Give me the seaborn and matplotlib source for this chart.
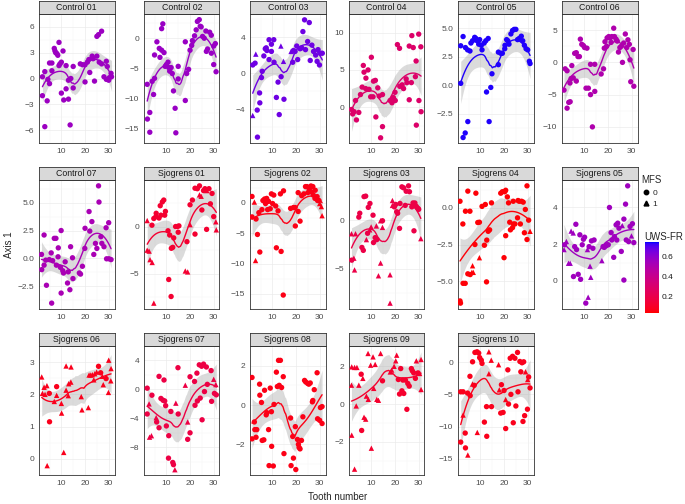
import numpy as np
import pandas as pd
import matplotlib
matplotlib.use('Agg')
import matplotlib as mpl
import matplotlib.pyplot as plt
import seaborn as sns
from matplotlib.colors import LinearSegmentedColormap, Normalize
from matplotlib.lines import Line2D

# (tooth number, Axis 1, MFS)
c01 = [(2, 0.2, 0), (2, -2.0, 0), (3, 0.8, 0), (3, -5.6, 0), (4, -2.6, 0), (4.3, -0.1, 0), (5, -0.6, 0), (5, 1.8, 0),
       (6, 1.8, 0), (6, 0.9, 0), (7, 3.5, 0), (7.3, 3.2, 0), (7.6, 3.0, 0), (8.1, 2.9, 0), (8.5, 2.7, 0), (9, 4.2, 0),
       (9, 1.5, 0), (9.4, 1.7, 0), (10, 1.9, 0), (10, -1.7, 0), (10.7, 3.2, 0), (11, -2.5, 0), (12, -1.2, 0), (12, 1.5, 0),
       (13, -2.4, 0), (13, -0.2, 0), (13.7, -5.4, 0), (14, 0.0, 0), (15, 1.4, 0), (15, -1.1, 0), (18, 1.7, 0), (19, 1.6, 0),
       (20, -0.4, 0), (20, 1.6, 0), (21, 1.9, 0), (21.6, 2.2, 0), (22, 0.7, 0), (23, 2.6, 0), (23.4, 2.3, 0), (24, -0.3, 0),
       (25, 4.9, 0), (25.7, 5.1, 0), (27, 5.5, 0), (25, 2.6, 0), (26, 1.9, 0), (27, 1.7, 0), (28, 0.2, 0), (29, 2.0, 0),
       (29, -0.1, 0), (29.4, 1.4, 0), (30, -0.2, 0), (30.3, 0.1, 0), (31, 0.6, 0), (31.2, 0.2, 0)]
c02 = [(1.9, -7.7, 0), (2, -13.5, 0), (3, -12.4, 0), (3, -15.7, 0), (4, -7.2, 0), (4.6, -9.4, 0), (5, -6.7, 0), (5, -2.8, 0),
       (6, -0.6, 0), (7, -1.7, 0), (7.3, -3.2, 0), (8, 1.6, 0), (8.5, 2.4, 0), (8, -2.0, 0), (9, -2.4, 0), (9.5, -4.7, 0),
       (10, -4.4, 0), (10.7, -4.0, 0), (11, -4.9, 0), (11.4, -5.5, 0), (12, -4.9, 0), (12.5, -5.9, 0), (13, -8.8, 0),
       (13.7, -11.7, 0), (14, -15.8, 0), (15, -4.7, 0), (15, -6.8, 0), (18, -10.4, 0), (18, -0.6, 0), (18.6, -5.9, 0),
       (19.4, -5.2, 0), (20, -2.0, 0), (20.7, -1.2, 0), (21, -0.4, 0), (21.9, 0.4, 0), (22.6, 1.4, 0), (23.1, 2.8, 0),
       (23.9, 3.1, 0), (24.3, 2.0, 0), (24.7, 1.9, 0), (25.3, 0.3, 0), (26, 0.0, 0), (26.7, 1.2, 0), (26.9, -2.2, 0),
       (27.4, -1.8, 0), (28.3, 1.0, 0), (29, 0.5, 0), (29, -2.5, 0), (30, -4.4, 0), (30, -1.3, 0), (30.7, -0.9, 0), (31, -5.6, 0)]
c03 = [(1.7, 0.9, 0), (2.7, 1.1, 0), (3, 2.1, 1), (1.7, -4.7, 1), (3.6, -4.1, 0), (3.7, -7.1, 0), (4.6, -2.2, 0), (4.7, -3.3, 0),
       (5.4, -0.5, 0), (5.7, 0.2, 0), (6.4, 1.9, 0), (7, 2.7, 0), (7.4, 2.8, 0), (7.7, 2.5, 0), (8.6, 3.7, 0), (8.6, 1.5, 0),
       (9.6, 3.2, 0), (9.6, 2.4, 0), (10.6, 3.7, 0), (10.7, 1.2, 0), (11.7, -2.7, 0), (12.4, -1.0, 0), (12.9, -4.6, 0),
       (13.6, 3.0, 1), (13.7, -0.4, 0), (14.7, 1.3, 1), (14.9, -2.9, 0), (17.9, 2.4, 1), (18.6, 1.2, 0), (18.9, 2.5, 0),
       (19.6, 2.4, 0), (20.3, 3.0, 0), (20.7, 1.5, 0), (21.7, 2.7, 0), (22.4, 2.8, 0), (22.9, 4.6, 0), (23.6, 5.9, 0),
       (24, 2.6, 0), (24.9, 3.5, 0), (25.6, 5.6, 0), (26, 1.4, 0), (26.7, 3.1, 0), (27.4, 2.4, 0), (28.3, 2.0, 0),
       (28.9, 1.3, 0), (29.3, 2.6, 0), (29.9, 0.9, 0), (30.3, 2.2, 0), (31.1, 2.2, 0)]
c04 = [(1.6, -0.3, 0), (2.1, -0.9, 0), (2.7, -0.6, 0), (3.3, 0.9, 0), (3.7, -1.7, 0), (4.7, -0.7, 0), (5.4, 1.7, 0), (6.1, 2.7, 0),
       (6.6, 5.6, 0), (6.9, 4.7, 0), (7.6, 2.5, 0), (7.7, 3.9, 0), (8.6, 5.0, 0), (9, 2.4, 0), (9.7, 1.4, 0), (10, 6.7, 0),
       (10.7, 1.4, 0), (10.9, 3.5, 0), (11.7, 3.6, 0), (11.9, -1.3, 0), (12.7, 2.6, 0), (13.3, 1.5, 0), (13.9, -4.1, 0),
       (14.7, -2.6, 0), (14.7, 1.7, 0), (17.9, 0.9, 0), (18.7, 0.6, 0), (19.3, 1.3, 0), (20, 2.0, 0), (20.1, 0.9, 0),
       (21, 8.4, 0), (21.9, 7.9, 0), (22, 2.8, 0), (23, 3.0, 0), (23.6, 2.5, 0), (24.7, 3.8, 0), (25, 3.3, 0), (26, 8.2, 0),
       (26, 1.0, 0), (26.9, 3.3, 0), (27.1, 9.6, 0), (27.7, 8.0, 0), (28.6, 4.1, 0), (28.9, 6.2, 0), (29, -2.4, 0),
       (30, 9.8, 0), (30.1, 0.9, 0), (30.9, 8.1, 0), (31, -0.6, 0)]
c05 = [(1.7, 0.16, 0), (1.7, 3.46, 0), (2.7, 4.27, 0), (3.7, 3.3, 0), (4.6, 3.1, 0), (5.6, 3.0, 0), (2.7, -4.6, 0), (3.6, -4.2, 0),
       (4.7, -3.2, 0), (6, 3.7, 0), (6.7, 3.9, 0), (7.6, 4.2, 0), (8.1, 4.1, 0), (8.6, 3.9, 0), (9.3, 3.6, 0), (9.7, 4.0, 0),
       (10.4, 3.5, 0), (10.7, 3.1, 0), (11.6, 3.7, 0), (12.3, 3.9, 0), (13.3, 4.1, 0), (12.6, -0.6, 0), (13.7, -3.2, 0),
       (14.4, -0.2, 0), (14.9, 1.0, 0), (17.6, 1.8, 0), (17.6, 2.9, 0), (18.6, 2.8, 0), (19.3, 2.8, 0), (20.3, 3.2, 0),
       (20.4, 3.5, 0), (21.1, 4.0, 0), (21.6, 3.9, 0), (22.1, 3.6, 0), (22.9, 4.5, 0), (23.6, 4.8, 0), (24.3, 4.9, 0),
       (25, 4.9, 0), (25.7, 4.0, 0), (26.4, 4.1, 0), (27.3, 4.3, 0), (27.9, 3.9, 0), (28.6, 3.5, 0), (29.3, 3.2, 0),
       (30, 3.1, 0), (30.7, 2.1, 0), (31, 1.9, 0)]
c06 = [(1.4, -4.3, 0), (1.9, -1.0, 0), (2.7, -1.3, 0), (2.7, -7.1, 0), (3.4, -6.2, 0), (4, -6.1, 0), (3.9, -3.2, 0), (4.4, -2.5, 0),
       (4.7, -0.5, 0), (5.3, -2.4, 0), (5.9, 1.4, 0), (6.6, 1.5, 0), (6.6, -2.9, 0), (7.3, 0.9, 0), (7.9, 0.9, 0), (8.3, 3.6, 0),
       (8.9, 2.8, 0), (9.6, 2.6, 0), (10.1, 2.3, 0), (10.7, -4.0, 0), (11.1, 2.2, 0), (11.7, -4.0, 0), (12.6, -5.0, 0),
       (12.6, -0.3, 0), (13.4, -10.0, 0), (14.4, -0.3, 0), (14.4, -4.5, 0), (17.1, -1.8, 0), (18.1, -1.0, 0), (18.4, 2.2, 0),
       (18.7, 3.2, 0), (19.4, 2.5, 0), (19.6, 3.8, 0), (20.3, 4.0, 0), (20.9, 3.8, 0), (21.3, 3.1, 0), (21.6, 4.0, 0),
       (22.4, 5.3, 0), (22.7, 4.0, 0), (23.4, 3.6, 0), (23.9, 3.3, 0), (24.4, 1.6, 0), (25, 2.3, 0), (25.6, 2.5, 0),
       (26.1, 0.0, 0), (26.6, 3.0, 0), (27.3, 4.4, 0), (27.9, 2.3, 0), (28.4, 3.5, 0), (29, 2.8, 0), (29.3, 0.4, 0),
       (29.6, -3.0, 0), (30.6, 2.0, 0), (30.9, -3.7, 0)]
c07 = [(1.6, 0.36, 0), (1.7, -1.0, 0), (2.7, 2.1, 0), (2.7, -0.6, 0), (3.4, -0.15, 0), (3.7, -2.4, 0), (4.9, -0.1, 0),
       (5.7, 0.5, 0), (5.9, -4.0, 0), (6.3, -0.2, 0), (7, 1.8, 0), (7.7, 1.8, 0), (7.9, -0.6, 0), (8.6, 0.15, 0),
       (8.7, 0.95, 0), (9.6, -0.8, 0), (9.9, 2.5, 0), (9.9, -3.1, 0), (10.6, -1.1, 0), (10.9, -1.3, 0), (11.6, -0.3, 0),
       (12.6, -2.2, 0), (12.9, -1.2, 0), (13.6, -2.8, 0), (13.9, 1.05, 0), (14.7, 0.06, 0), (14.9, -1.8, 0), (17.6, -1.3, 0),
       (18.1, -1.4, 0), (18.9, -0.7, 0), (19.9, 0.9, 0), (20, 2.7, 0), (21.7, 4.2, 0), (22, 2.45, 0), (22.9, 3.3, 0),
       (23.7, 0.36, 0), (24.4, 1.35, 0), (25, 0.9, 0), (25.7, 6.5, 0), (25.9, 5.05, 0), (26.7, 1.95, 0), (27.1, 1.35, 0),
       (28, 1.05, 0), (28.9, 2.75, 0), (29.1, -0.03, 0), (30, 3.2, 0), (30.1, -0.03, 0), (31, -0.1, 0)]
s01 = [(1.9, 0.63, 1), (1.9, -2.5, 1), (2.7, -2.6, 1), (3.1, -3.5, 1), (4, -3.8, 1), (3.9, 0.14, 0), (4.7, 0.85, 0),
       (4.7, -8.1, 1), (5.6, 1.05, 0), (5.7, 1.4, 0), (6.9, 0.9, 0), (7.7, 1.2, 0), (7.4, 2.2, 0), (8.3, 2.6, 0), (8.9, 2.8, 0),
       (9.3, 1.2, 0), (9.6, 1.6, 0), (10.7, -0.45, 0), (11, -5.6, 0), (11.4, -0.9, 0), (12, -7.4, 0), (12.1, -2.3, 0),
       (12.7, -2.2, 0), (13.1, -1.2, 0), (13.9, 0.0, 0), (14.6, 0.0, 0), (15, -0.6, 0), (15.3, 0.07, 0), (18, -4.7, 1),
       (19, -4.8, 1), (18.7, -1.6, 0), (20, 2.3, 0), (20, 0.2, 1), (21, 2.8, 0), (22.1, -0.8, 0), (22.1, 4.05, 0),
       (23.1, 4.0, 0), (24, 4.3, 0), (24, 3.35, 1), (24.7, 3.2, 1), (25, 1.75, 0), (25.7, 3.8, 0), (26.3, 4.0, 0),
       (27, -0.3, 0), (27.1, 3.8, 1), (28, 4.0, 0), (28.6, 2.4, 0), (29.3, 3.5, 0), (30, 1.05, 0), (30.9, 0.5, 1),
       (31.1, -0.35, 1)]
s02 = [(1.4, 1.07, 0), (1.4, -2.3, 0), (2.4, 0.15, 1), (2.9, -9.5, 1), (3.1, -2.65, 0), (3.7, -5.2, 0), (4.3, -1.6, 0),
       (4.7, -8.1, 0), (5.6, -1.1, 0), (6, 0.4, 0), (6.7, 0.65, 0), (7.1, -0.1, 0), (7.6, 0.75, 0), (8, -1.1, 0),
       (8.4, 0.25, 0), (9.1, -0.95, 0), (9.6, 1.5, 0), (10.1, -0.1, 0), (10.6, 1.3, 0), (11.4, -0.5, 0), (11.7, -7.4, 0),
       (12.4, -1.3, 0), (13.4, 1.5, 0), (13.7, -8.0, 0), (14.7, 2.0, 0), (14.6, -15.2, 0), (17.7, -0.9, 0), (18.9, -0.75, 0),
       (19.6, -0.75, 0), (19.7, -3.8, 0), (20.9, 1.7, 0), (20.9, -1.4, 0), (21.7, -3.0, 0), (22.4, 1.2, 0), (23.3, 1.5, 0),
       (24, 2.7, 0), (24.6, 2.7, 0), (25, 1.7, 0), (25.6, 2.3, 0), (26.3, 2.8, 0), (26.6, 1.8, 0), (27.1, 2.7, 0),
       (27.3, 1.3, 0), (28, 0.75, 0), (28.1, 2.1, 0), (28.9, 1.05, 0), (29.1, 0.4, 0), (29.7, 0.4, 0), (30, -0.1, 1),
       (30.7, -0.6, 1), (31, -2.1, 1)]
s03 = [(1.6, -1.4, 1), (1.7, -4.1, 0), (2.6, -3.9, 1), (2.9, -5.1, 1), (3.3, -1.4, 1), (4.7, 0.3, 0), (5.1, 0.7, 0),
       (6, -2.8, 0), (6.6, -3.1, 0), (6.9, 2.4, 0), (7.6, 2.45, 0), (7.9, -2.0, 1), (8.4, -1.35, 0), (8.7, 1.3, 0),
       (9.4, 1.7, 0), (9.3, -1.0, 1), (9.9, -0.7, 1), (10.7, 0.5, 0), (10.9, -2.3, 0), (11.6, -1.8, 0), (12.1, -0.6, 1),
       (12.3, -2.0, 0), (13, -5.7, 1), (13.9, -0.07, 1), (13.9, -4.4, 1), (14.7, -0.07, 0), (14.7, -0.75, 1), (17.9, -5.6, 1),
       (17.9, -8.5, 1), (18.9, 2.0, 1), (18.9, 1.5, 1), (19.7, 1.35, 0), (20.3, 1.6, 0), (20.7, 0.85, 0), (21.1, 0.7, 0),
       (21.9, -0.85, 0), (22.1, 1.7, 0), (22.9, 3.4, 0), (23.6, 3.3, 0), (24.3, 1.5, 0), (24.7, 2.95, 0), (25.7, 3.5, 0),
       (26.1, 2.9, 0), (27.1, 1.35, 0), (27.6, 1.75, 0), (28, -1.1, 0), (28.4, 1.75, 0), (29, 1.4, 0), (29.7, 1.2, 0),
       (30, 1.1, 0), (30.9, -1.9, 1)]
s04 = [(1.4, 0.45, 0), (1.4, -6.35, 0), (1.6, -6.5, 0), (2.6, -1.1, 0), (2.7, -5.15, 0), (3.7, -0.23, 0), (3.6, -5.15, 0),
       (4.7, 1.14, 0), (4.7, -4.5, 0), (5.6, -0.23, 0), (5.7, -4.55, 0), (6.4, -4.4, 1), (6.7, -3.95, 1), (7, -4.4, 1),
       (7.7, -2.5, 0), (8.1, 1.0, 0), (8.9, -1.0, 0), (9.6, -0.98, 0), (9.6, -3.4, 1), (10.7, 0.1, 0), (11.7, -2.55, 0),
       (12.1, 0.23, 0), (12.6, -5.05, 0), (12.7, -2.2, 0), (13.3, -1.6, 0), (13.9, -1.5, 0), (14.7, 0.34, 0), (18.6, 1.0, 0),
       (19.3, 1.1, 0), (20, -3.4, 0), (20.3, 1.1, 0), (20.7, 1.2, 0), (20.7, -1.9, 0), (21.4, 0.75, 0), (21.9, 0.34, 0),
       (22.4, -0.98, 0), (22.7, -1.5, 0), (23.6, -1.35, 0), (23.9, 0.45, 0), (24, -1.1, 0), (24.6, -1.1, 0), (25.7, -0.68, 0),
       (25.9, 0.5, 0), (26.4, 0.45, 0), (26.9, -1.1, 0), (27.4, 0.45, 0), (28.1, 0.39, 0), (28.6, -1.7, 0), (29, -0.11, 0),
       (29.7, 1.5, 0), (29.7, -2.16, 0), (30.4, -0.84, 0), (31, -1.6, 1)]
s05 = [(1.4, 1.7, 1), (1.6, 1.96, 0), (2.4, 2.14, 1), (3.3, 0.96, 1), (4, 0.96, 1), (4.4, 2.7, 1), (5.3, 2.6, 1), (5.4, 0.24, 0),
       (5.9, 1.86, 0), (6.4, 3.07, 0), (6.7, 1.7, 0), (7.4, 0.36, 0), (8.1, 2.5, 0), (8.4, 0.09, 0), (9.1, 1.96, 0),
       (9.6, 2.26, 0), (10.1, 2.37, 0), (10.6, -1.2, 0), (11.3, 1.7, 1), (11.6, -0.88, 1), (12, 1.86, 0), (12.4, 0.8, 1),
       (12.7, 0.2, 1), (13, 2.17, 0), (13.6, 1.77, 0), (14.1, 2.22, 0), (17.4, 1.1, 1), (17.9, 1.86, 0), (18.4, 1.82, 0),
       (19.1, 1.9, 0), (19.6, 1.96, 0), (20.1, 1.96, 0), (20.6, 3.98, 0), (21.3, 2.62, 0), (21.6, 2.22, 0), (22.4, 1.28, 0),
       (22.7, 2.4, 0), (23.4, 3.04, 0), (23.7, 2.22, 0), (24.1, 3.13, 0), (24.6, 2.86, 0), (25.6, 1.6, 0), (26, 3.0, 1),
       (26.7, 3.35, 0), (26.7, 0.05, 0), (27.4, 4.16, 0), (27.7, 2.22, 0), (28.3, 5.15, 0), (28.7, 2.13, 0), (29.3, 2.95, 0),
       (29.9, 2.44, 1), (30.3, 3.1, 0), (30.9, 2.08, 0)]
s06 = [(1.7, 2.54, 1), (2, 2.03, 1), (2.7, 2.22, 1), (3.1, 2.0, 1), (3.9, 2.27, 1), (4, -0.21, 1), (4.9, 2.03, 0), (5, 1.15, 0),
       (7, 1.78, 1), (8, 2.24, 0), (8, 1.97, 1), (10, 1.72, 1), (10.1, 1.42, 1), (11, 0.2, 1), (12, 2.13, 1), (12, 2.88, 1),
       (12.9, 1.96, 1), (13.1, 2.33, 1), (14, 2.38, 1), (14.1, 2.85, 1), (18.4, 1.93, 1), (18.7, 1.52, 1), (21.4, 1.59, 1),
       (21.7, 2.6, 1), (22.4, 2.6, 1), (23.1, 2.61, 1), (23.7, 2.45, 1), (24.1, 2.64, 1), (24.9, 2.69, 1), (25.7, 2.87, 0),
       (26.6, 2.67, 0), (27.3, 2.56, 1), (27.7, 2.3, 1), (28.9, 2.49, 0), (29.9, 2.06, 1), (30, 3.06, 1), (31, 2.8, 1),
       (30.9, 2.42, 1)]
s07 = [(1.9, 0.17, 0), (1.9, -3.4, 0), (2.7, -2.0, 1), (2.9, -6.6, 1), (3.7, -6.4, 1), (3.9, -0.8, 0), (5.7, -3.9, 1),
       (5.9, -4.5, 0), (6.9, -5.3, 0), (6.9, 1.8, 0), (7.7, -1.25, 0), (8.6, -1.5, 0), (9, 1.3, 0), (9.3, -1.6, 0),
       (9.7, -2.25, 0), (10, -5.05, 0), (10.9, -9.5, 0), (11, -6.4, 0), (11.9, -3.05, 0), (12.7, -10.1, 0), (13, -10.4, 0),
       (13.6, -11.1, 1), (14, -1.9, 1), (14.9, 3.0, 0), (15, -3.4, 0), (18, 0.58, 1), (19, -4.5, 1), (19, -6.9, 0),
       (20, 1.75, 0), (20, -6.0, 0), (21.9, 1.1, 0), (22.1, -2.2, 0), (22.9, 2.25, 0), (23.1, -1.6, 0), (23.9, 3.4, 0),
       (24.3, -1.2, 0), (24.9, 3.2, 0), (25.1, -4.2, 0), (25.7, 3.5, 0), (26.1, -0.3, 0), (26.9, 3.1, 0), (27.3, 0.7, 0),
       (28.9, 2.6, 0), (29.1, -1.65, 0), (30, 1.4, 1), (30.3, -0.55, 0), (30.9, 0.67, 1), (31.1, -0.75, 0)]
s08 = [(1.4, 1.4, 0), (1.4, -1.72, 0), (2.4, -0.86, 0), (2.6, -1.25, 0), (3.1, -1.64, 0), (3.4, -1.25, 0), (4.6, 1.06, 0),
       (4.7, 0.5, 0), (5.4, 0.13, 0), (5.7, -1.8, 0), (6.4, -1.77, 0), (6.7, 0.75, 0), (7.4, -0.5, 0), (7.7, -0.39, 0),
       (8.4, -1.25, 0), (8.6, -3.08, 0), (9.1, 0.86, 0), (9.6, -0.34, 0), (9.7, -2.1, 0), (10.4, -3.1, 0), (10.7, 0.03, 0),
       (11.7, 1.67, 0), (12.1, 0.94, 0), (12.6, 2.27, 0), (12.9, 1.0, 0), (13.4, 2.27, 0), (13.9, 0.89, 0), (14.6, 1.44, 0),
       (14.9, -2.47, 0), (17.7, -0.66, 0), (17.9, -3.08, 0), (18.6, -1.6, 0), (18.9, -2.7, 0), (19.7, -1.1, 0),
       (19.9, -3.28, 0), (20.6, -1.75, 0), (21, -2.0, 0), (21.3, -2.16, 0), (21.7, -2.23, 0), (22.3, -1.8, 0), (22.9, -0.6, 0),
       (23.6, 1.25, 0), (24.1, 1.17, 0), (24.9, 1.1, 0), (25.4, 1.06, 0), (26, 1.12, 0), (26.9, 0.16, 0), (27.1, 0.23, 0),
       (27.7, 0.78, 0), (28.9, 1.64, 0), (29.1, -0.7, 0), (30, -0.78, 0), (30.3, -0.13, 0), (31, -0.08, 0), (31, -0.94, 0)]
s09 = [(1.6, 1.0, 1), (1.7, 1.97, 1), (1.7, -1.65, 1), (2.9, -3.45, 1), (2.9, 1.94, 1), (3.6, -0.1, 1), (3.9, 1.94, 1),
       (4.7, 1.0, 1), (5.7, 1.58, 0), (5.9, -1.4, 0), (6.4, 1.36, 1), (6.9, -0.7, 1), (7.6, -0.8, 1), (7.9, 0.42, 1),
       (8.6, 2.68, 1), (8.7, 0.25, 1), (9.7, 2.06, 1), (10, -2.34, 1), (10.7, 2.5, 1), (11, 0.83, 1), (11.6, 2.1, 1),
       (12.3, 0.25, 1), (13, 0.2, 1), (13.9, 2.68, 1), (14.7, 1.23, 0), (18, 1.7, 1), (18.6, 1.8, 1), (19.6, 2.0, 1),
       (20.3, 2.29, 1), (20.7, 2.59, 1), (21.4, 1.3, 0), (21.9, 0.53, 0), (22.4, 1.88, 0), (22.9, 0.7, 0), (23.3, 1.27, 0),
       (23.7, 0.56, 0), (24.4, 1.27, 0), (25, -0.28, 0), (25.4, 1.09, 0), (26, 0.95, 0), (26.9, 1.88, 0), (27.3, 1.76, 0),
       (27.9, 1.65, 0), (28.6, 1.36, 0), (29, 2.29, 1), (29.7, 1.65, 0), (30.4, 1.62, 1), (31, 2.36, 1), (31, 0.77, 1)]
s10 = [(1.7, -4.6, 0), (2.7, -4.6, 0), (1.7, -12.4, 0), (2.7, -8.2, 1), (3.6, -11.0, 0), (3.7, -13.3, 0), (4.6, -4.8, 0),
       (4.7, -14.4, 1), (5.6, -2.2, 0), (5.7, -5.2, 0), (6.7, 0.05, 0), (6.7, -3.4, 1), (7.4, -3.6, 0), (7.7, 1.5, 0),
       (8.6, 1.6, 0), (8.7, -10.9, 1), (9.3, 1.4, 0), (9.7, 0.7, 0), (10.4, 0.3, 0), (10.7, -0.2, 0), (11.7, -9.3, 0),
       (12.6, -6.9, 0), (12.7, -11.5, 0), (13.6, 1.6, 1), (13.6, -1.8, 1), (14.6, 0.3, 1), (14.7, -6.9, 0), (17.7, -0.4, 1),
       (18, -4.3, 1), (18.6, -7.9, 0), (18.9, -3.5, 0), (19.6, -7.8, 0), (20, -4.4, 0), (20.7, -5.8, 1), (20.7, -10.3, 0),
       (21.6, -1.2, 0), (21.9, -6.5, 0), (22.6, 0.6, 0), (22.9, -5.0, 0), (23.6, 0.9, 0), (23.9, -9.4, 0), (24.6, 0.6, 0),
       (25, -6.8, 0), (25.7, 1.5, 0), (25.9, -4.6, 0), (26.7, 0.1, 0), (27.1, -1.5, 0), (27.6, -0.1, 0), (28, -9.2, 0),
       (28.3, 0.05, 0), (28.7, -8.3, 0), (29.1, -1.5, 1), (29.9, -7.3, 0), (30, -2.7, 1), (30.4, -2.3, 0), (31, -4.0, 0)]

panel_names = ['Control 01', 'Control 02', 'Control 03', 'Control 04', 'Control 05', 'Control 06', 'Control 07',
               'Sjogrens 01', 'Sjogrens 02', 'Sjogrens 03', 'Sjogrens 04', 'Sjogrens 05', 'Sjogrens 06',
               'Sjogrens 07', 'Sjogrens 08', 'Sjogrens 09', 'Sjogrens 10']
panel_points = [c01, c02, c03, c04, c05, c06, c07, s01, s02, s03, s04, s05, s06, s07, s08, s09, s10]
# UWS-FR per subject (estimated from colour)
uws_fr = [0.56, 0.57, 0.66, 0.29, 0.73, 0.50, 0.52, 0.13, 0.07, 0.19, 0.05, 0.55, 0.08, 0.18, 0.07, 0.12, 0.08]
y_breaks = [[-6, -3, 0, 3, 6], [-15, -10, -5, 0], [-4, 0, 4], [0, 5, 10], [-2.5, 0, 2.5, 5], [-10, -5, 0, 5],
            [-2.5, 0, 2.5, 5], [-5, 0], [-15, -10, -5, 0], [-5, 0], [-5, -2.5, 0], [0, 2, 4], [0, 1, 2, 3],
            [-8, -4, 0, 4], [-2, 0, 2], [-2, 0, 2], [-15, -10, -5, 0]]
x_breaks = [10, 20, 30]
color_breaks = [0.2, 0.4, 0.6]
color_limits = (0.04, 0.74)

rows = []
for name, pts, u in zip(panel_names, panel_points, uws_fr):
    for t, a, m in pts:
        rows.append({'subject': name, 'tooth': t, 'axis1': a, 'mfs': m, 'uws': u})
df = pd.DataFrame(rows)


# red -> blue gradient interpolated in Lab (like ggplot's scale_colour_gradient)
M = np.array([[0.4124, 0.3576, 0.1805], [0.2126, 0.7152, 0.0722], [0.0193, 0.1192, 0.9505]])
WHITE = np.array([0.95047, 1.0, 1.08883])


def to_lab(rgb):
    c = np.asarray(rgb, float)
    lin = np.where(c <= 0.04045, c / 12.92, ((c + 0.055) / 1.055) ** 2.4)
    xyz = M @ lin / WHITE
    f = np.where(xyz > 0.008856, np.cbrt(xyz), 7.787 * xyz + 16 / 116)
    return np.array([116 * f[1] - 16, 500 * (f[0] - f[1]), 200 * (f[1] - f[2])])


def from_lab(lab):
    fy = (lab[0] + 16) / 116
    f = np.array([fy + lab[1] / 500, fy, fy - lab[2] / 200])
    xyz = np.where(f ** 3 > 0.008856, f ** 3, (f - 16 / 116) / 7.787) * WHITE
    lin = np.linalg.solve(M, xyz)
    c = np.where(lin <= 0.0031308, 12.92 * lin, 1.055 * np.clip(lin, 0, None) ** (1 / 2.4) - 0.055)
    return np.clip(c, 0, 1)


lab_lo, lab_hi = to_lab([1, 0, 0]), to_lab([0, 0, 1])
cmap = LinearSegmentedColormap.from_list(
    'uws', [from_lab(lab_lo + (lab_hi - lab_lo) * t) for t in np.linspace(0, 1, 64)])
norm = Normalize(*color_limits)


def loess(x, y, grid, span=0.75):
    # local quadratic fit with tricube weights (geom_smooth default)
    n = len(x)
    k = int(np.ceil(span * n))

    def smoother(points):
        L = np.zeros((len(points), n))
        for i, x0 in enumerate(points):
            d = np.abs(x - x0)
            h = np.sort(d)[k - 1] * 1.0001
            w = np.clip(1 - (d / h) ** 3, 0, None) ** 3
            X = np.column_stack([np.ones(n), x - x0, (x - x0) ** 2])
            A = X.T @ (w[:, None] * X)
            L[i] = np.linalg.solve(A, X.T * w)[0]
        return L

    Ld = smoother(x)
    R = np.eye(n) - Ld
    res = R @ y
    s2 = res @ res / np.trace(R.T @ R)
    Lg = smoother(grid)
    fit = Lg @ y
    se = np.sqrt(s2 * (Lg ** 2).sum(axis=1))
    return fit, 2.0 * se


sns.set_style('white')
plt.rcParams['font.family'] = ['Liberation Sans', 'DejaVu Sans']
plt.rcParams['axes.unicode_minus'] = True

W, H = 685, 504
fig = plt.figure(figsize=(6.85, 5.04), dpi=100)
col_left = [39, 144, 250, 349, 458, 562]
row_top = [14, 180, 346]
pw, ph, sh = 75.5, 129, 13.5


def fmt(v, step):
    s = f'{v:.1f}' if step % 1 else f'{v:.0f}'
    return s.replace('-', '\u2212')


for i, name in enumerate(panel_names):
    r, c = divmod(i, 6)
    L, T = col_left[c], row_top[r]
    ax = fig.add_axes([L / W, 1 - (T + ph) / H, pw / W, ph / H])
    sub = df[df['subject'] == name]
    col = cmap(norm(uws_fr[i]))

    x = sub['tooth'].to_numpy(float)
    y = sub['axis1'].to_numpy(float)
    grid = np.linspace(x.min(), x.max(), 80)
    fit, band = loess(x, y, grid)
    ax.fill_between(grid, fit - band, fit + band, color='#999999', alpha=0.35, lw=0, zorder=2)
    sns.scatterplot(data=sub, x='tooth', y='axis1', style='mfs', markers={0: 'o', 1: '^'},
                    color=col, s=15, linewidth=0, legend=False, ax=ax, zorder=3)
    ax.plot(grid, fit, color=col, lw=1.0, zorder=4)

    ax.set_xlim(0.55, 32.45)
    ax.margins(y=0.05)
    ax.autoscale_view()
    yb = y_breaks[i]
    step = yb[1] - yb[0]
    ax.set_yticks(yb)
    ax.set_yticklabels([fmt(v, step) for v in yb])
    ax.set_yticks([v + step / 2 for v in [yb[0] - step] + yb], minor=True)
    ax.set_xticks(x_breaks)
    ax.set_xticklabels([str(v) for v in x_breaks])
    ax.set_xticks([5, 15, 25], minor=True)
    ax.grid(True, which='major', color='#EBEBEB', lw=0.5, zorder=0)
    ax.grid(True, which='minor', color='#F3F3F3', lw=0.3, zorder=0)
    ax.set_axisbelow(True)
    ax.tick_params(which='major', length=2, width=0.5, color='#333333', labelsize=6,
                   labelcolor='#4D4D4D', pad=1.5)
    ax.tick_params(which='minor', length=0)
    for sp in ax.spines.values():
        sp.set_color('#333333')
        sp.set_linewidth(0.6)
    ax.set_xlabel('')
    ax.set_ylabel('')

    sax = fig.add_axes([L / W, 1 - T / H, pw / W, sh / H])
    sax.set_facecolor('#D9D9D9')
    sax.set_xticks([])
    sax.set_yticks([])
    for sp in sax.spines.values():
        sp.set_color('#333333')
        sp.set_linewidth(0.6)
    sax.text(0.5, 0.45, name, ha='center', va='center', fontsize=6.3, color='#1A1A1A',
             transform=sax.transAxes)

fig.text(9 / W, 1 - 245 / H, 'Axis 1', rotation=90, ha='center', va='center', fontsize=7)
fig.text(338 / W, 1 - 497 / H, 'Tooth number', ha='center', va='center', fontsize=7)

# MFS shape legend
handles = [Line2D([], [], marker='o', ls='', color='black', ms=3.2),
           Line2D([], [], marker='^', ls='', color='black', ms=3.5)]
leg = fig.legend(handles, ['0', '1'], title='MFS', loc='upper left',
                 bbox_to_anchor=(641 / W, 1 - 175 / H), frameon=False, fontsize=6,
                 title_fontsize=7, handletextpad=0.2, labelspacing=0.45, handlelength=1.2,
                 borderaxespad=0, borderpad=0)
leg._legend_box.align = 'left'

# UWS-FR colour bar
fig.text(644 / W, 1 - 237 / H, 'UWS-FR', ha='left', va='center', fontsize=7)
cax = fig.add_axes([645 / W, 1 - 313 / H, 14 / W, 71 / H])
cb = mpl.colorbar.ColorbarBase(cax, cmap=cmap, norm=norm, orientation='vertical')
cb.set_ticks(color_breaks)
cb.set_ticklabels([f'{v:.1f}' for v in color_breaks])
cb.outline.set_visible(False)
cax.tick_params(length=3, width=0.6, color='white', direction='in', labelsize=6,
                labelcolor='#1A1A1A', pad=2)

fig.savefig('out.png', dpi=100)
